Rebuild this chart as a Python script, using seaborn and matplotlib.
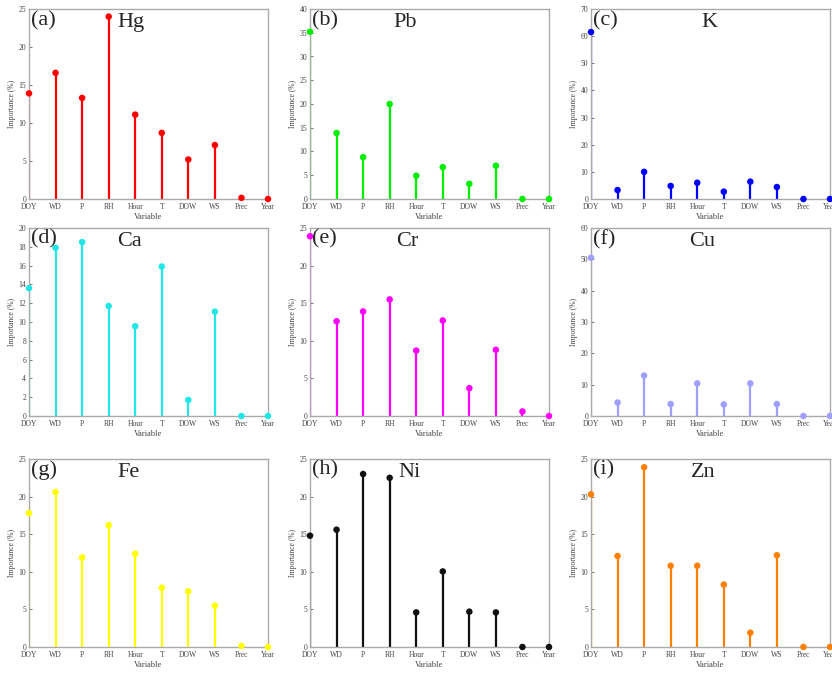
import numpy as np
import pandas as pd
import matplotlib
matplotlib.use("Agg")
import matplotlib.pyplot as plt
import seaborn as sns

# variables on the x axis
variables = ["DOY", "WD", "P", "RH", "Hour", "T", "DOW", "WS", "Prec", "Year"]

# importance (%) per element
hg = [13.9, 16.6, 13.3, 24.0, 11.1, 8.7, 5.2, 7.1, 0.15, 0.0]
pb = [35.2, 13.9, 8.8, 20.0, 4.9, 6.7, 3.2, 7.0, 0.0, 0.0]
k = [61.5, 3.3, 10.0, 4.8, 6.0, 2.7, 6.4, 4.4, 0.0, 0.0]
ca = [13.6, 17.9, 18.5, 11.7, 9.55, 15.9, 1.7, 11.1, 0.0, 0.0]
cr = [23.9, 12.6, 13.9, 15.5, 8.7, 12.7, 3.7, 8.8, 0.6, 0.0]
cu = [50.5, 4.3, 12.9, 3.8, 10.4, 3.7, 10.4, 3.8, 0.0, 0.0]
fe = [17.8, 20.6, 11.9, 16.2, 12.4, 7.9, 7.4, 5.5, 0.15, 0.0]
ni = [14.8, 15.6, 23.0, 22.5, 4.6, 10.05, 4.7, 4.6, 0.0, 0.0]
zn = [20.3, 12.1, 23.9, 10.8, 10.8, 8.3, 1.9, 12.2, 0.0, 0.0]

panels = ["(a)", "(b)", "(c)", "(d)", "(e)", "(f)", "(g)", "(h)", "(i)"]
elements = ["Hg", "Pb", "K", "Ca", "Cr", "Cu", "Fe", "Ni", "Zn"]
series = [hg, pb, k, ca, cr, cu, fe, ni, zn]
colors = ["#ff0000", "#00ee00", "#0000ff", "#22e6e6", "#ff00ff",
          "#9f9fff", "#ffff00", "#111111", "#ff8000"]
ymax = [25, 40, 70, 20, 25, 60, 25, 25, 25]
ystep = [5, 5, 10, 2, 5, 10, 5, 5, 5]
name_x = [0.37, 0.35, 0.46, 0.37, 0.36, 0.41, 0.37, 0.37, 0.42]

sns.set_theme(style="ticks")
plt.rcParams["font.family"] = ["Liberation Serif", "DejaVu Serif"]

W, H = 832, 673
fig = plt.figure(figsize=(W / 100, H / 100), dpi=100)

# axes boxes in pixels: (left, top, width, height)
lefts = [29, 310, 591]
rows = [(9, 190), (228, 188), (459, 188)]

xs = np.arange(1, len(variables) + 1)
for i in range(9):
    r, c = divmod(i, 3)
    top, h = rows[r]
    left = lefts[c]
    ax = fig.add_axes([left / W, (H - top - h) / H, 239 / W, h / H])
    df = pd.DataFrame({"x": xs, "y": series[i]})
    ax.vlines(df["x"], 0, df["y"], color=colors[i], lw=1.6, zorder=2)
    sns.scatterplot(data=df, x="x", y="y", ax=ax, color=colors[i], s=22,
                    edgecolor="none", zorder=3, clip_on=False)
    ax.set_xlim(1, 10)
    ax.set_ylim(0, ymax[i])
    ax.set_xticks(xs)
    ax.set_xticklabels(variables)
    ax.set_yticks(np.arange(0, ymax[i] + 0.1, ystep[i]))
    ax.tick_params(labelsize=5.5, colors="#444444", length=2, direction="in",
                   pad=2, width=0.5)
    ax.tick_params(axis="x", pad=3)
    ax.set_xlabel("Variable", fontsize=6, color="#444444", labelpad=1)
    ax.set_ylabel("Importance (%)", fontsize=5.5, color="#444444", labelpad=2)
    for s in ax.spines.values():
        s.set_color("#aaaaaa")
        s.set_linewidth(1.0)
    ax.text(0.01, 0.94, panels[i], transform=ax.transAxes, fontsize=16,
            va="center", ha="left")
    ax.text(name_x[i], 0.93, elements[i], transform=ax.transAxes, fontsize=16,
            va="center", ha="left")

fig.savefig("out.png", dpi=100)
